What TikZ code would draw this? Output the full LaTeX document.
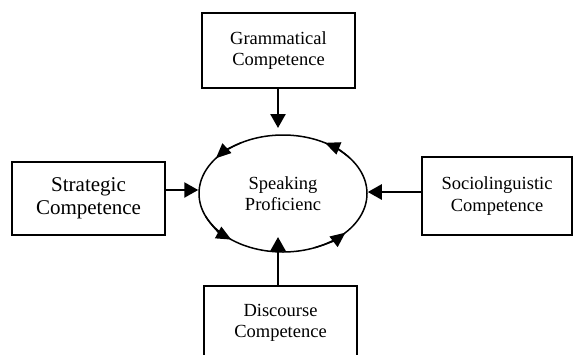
\documentclass[tikz,border=0pt]{standalone}
\usepackage{fontspec}
\setmainfont{Liberation Serif}
\usetikzlibrary{arrows.meta,shapes.geometric}
\tikzset{
  box/.style={draw, line width=1.9pt, align=center, inner sep=0pt, font=\fontsize{18.5}{21.7}\selectfont},
  arr/.style={line width=2.5pt, -{Triangle[length=14pt,width=15pt]}},
  circarr/.style={line width=1.5pt, -{Triangle[length=15pt,width=13pt]}}
}
\begin{document}
\begin{tikzpicture}[x=1pt,y=-1pt]
\useasboundingbox (0,0) rectangle (573,354);
\node[box, minimum width=153pt, minimum height=75pt] (gram) at (278.5,50.5) {Grammatical\\Competence};
\node[box, minimum width=153pt, minimum height=73pt, font=\fontsize{21}{23}\selectfont] (strat) at (88.5,198.5) {Strategic\\Competence};
\node[box, minimum width=150pt, minimum height=78pt] (socio) at (497,196) {Sociolinguistic\\Competence};
\node[box, minimum width=153pt, minimum height=74pt, anchor=north] (disc) at (280.5,285) {Discourse\\Competence};
\node[draw, ellipse, line width=1.5pt, minimum width=168pt, minimum height=117pt, inner sep=0pt, align=center, font=\fontsize{18.5}{21.3}\selectfont] (sp) at (283,193.5) {Speaking\\Proficienc};
\coordinate (gtip) at (278,128);
\coordinate (dtip) at (278,237);
\draw[arr] (gram.south -| gtip) -- (gtip);
\draw[arr] (disc.north -| dtip) -- (dtip);
\draw[arr] (strat.east |- 0,190) -- (sp.west |- 0,190);
\draw[arr] (socio.west |- 0,192) -- (sp.east |- 0,192);
\draw[circarr] ([shift={(120:84pt and 58.5pt)}]sp.center) arc[start angle=120, end angle=143, x radius=84pt, y radius=58.5pt];
\draw[circarr] ([shift={(38:84pt and 58.5pt)}]sp.center) arc[start angle=38, end angle=60, x radius=84pt, y radius=58.5pt];
\draw[circarr] ([shift={(203:84pt and 58.5pt)}]sp.center) arc[start angle=203, end angle=232, x radius=84pt, y radius=58.5pt];
\draw[circarr] ([shift={(292:84pt and 58.5pt)}]sp.center) arc[start angle=292, end angle=318, x radius=84pt, y radius=58.5pt];
\end{tikzpicture}
\end{document}
